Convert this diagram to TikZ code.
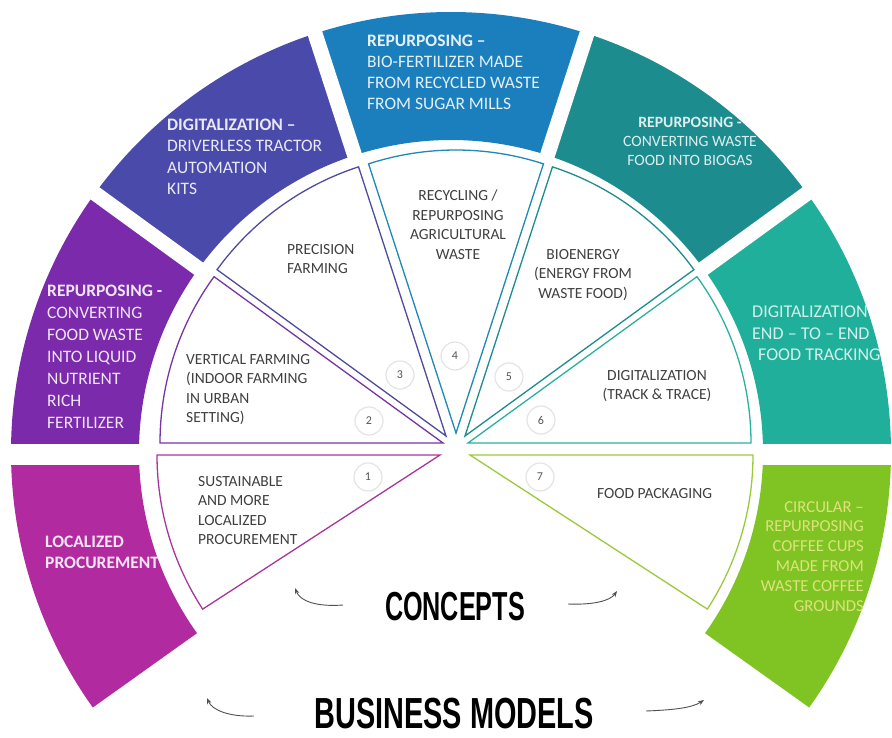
\documentclass[tikz,border=0pt]{standalone}
\usepackage{fontspec}
\setmainfont{Carlito}
\newfontfamily\conceptfont[FakeStretch=0.622]{Liberation Sans}
\newfontfamily\bmfont[FakeStretch=0.664]{Liberation Sans}
\usetikzlibrary{arrows.meta}
\definecolor{sA}{HTML}{B22AA0}
\definecolor{sB}{HTML}{7A2AAB}
\definecolor{sC}{HTML}{4A4AAA}
\definecolor{sD}{HTML}{1A7FBC}
\definecolor{sE}{HTML}{1C8C8E}
\definecolor{sF}{HTML}{20AF9A}
\definecolor{sG}{HTML}{80C424}
\definecolor{wA}{HTML}{A8359C}
\definecolor{wB}{HTML}{7535A5}
\definecolor{wC}{HTML}{4F4A9E}
\definecolor{wD}{HTML}{2088B5}
\definecolor{wE}{HTML}{1E8C8C}
\definecolor{wF}{HTML}{2BB0A0}
\definecolor{wG}{HTML}{9CC83C}
\definecolor{wtext}{HTML}{404040}
\definecolor{numring}{HTML}{E4E4E4}
\definecolor{numtext}{HTML}{555555}
\definecolor{arrowgray}{HTML}{505050}
\begin{document}
\begin{tikzpicture}[x=1pt,y=-1pt,
  ringtxt/.style={inner sep=0pt, anchor=north west, align=left},
  wtxt/.style={inner sep=0pt, text=wtext, font={\fontsize{15.5}{19.5}\selectfont}},
  numc/.style={circle, draw=numring, line width=1.2pt, fill=white, minimum size=28pt, inner sep=0pt, text=numtext, font={\fontsize{12}{14}\selectfont}},
  gapline/.style={white, line width=15pt},
  hgap/.style={white, line width=21pt},
  wedgeline/.style={line width=1.3pt, fill=white},
  curl/.style={-{Stealth[length=6pt,width=4.5pt]}, line width=0.9pt, draw=arrowgray},
]
\useasboundingbox (0,0) rectangle (892,737);
\coordinate (O) at (451,452);

% outer ring segments
\fill[sA, shift={(O)}] (144.5:440) arc[start angle=144.5, end angle=180, radius=440] -- (180:312) arc[start angle=180, end angle=144.5, radius=312] -- cycle;
\fill[sB, shift={(O)}] (180:440) arc[start angle=180, end angle=216, radius=440] -- (216:312) arc[start angle=216, end angle=180, radius=312] -- cycle;
\fill[sC, shift={(O)}] (216:440) arc[start angle=216, end angle=252, radius=440] -- (252:312) arc[start angle=252, end angle=216, radius=312] -- cycle;
\fill[sD, shift={(O)}] (252:440) arc[start angle=252, end angle=288, radius=440] -- (288:312) arc[start angle=288, end angle=252, radius=312] -- cycle;
\fill[sE, shift={(O)}] (288:440) arc[start angle=288, end angle=324, radius=440] -- (324:312) arc[start angle=324, end angle=288, radius=312] -- cycle;
\fill[sF, shift={(O)}] (324:440) arc[start angle=324, end angle=360, radius=440] -- (360:312) arc[start angle=360, end angle=324, radius=312] -- cycle;
\fill[sG, shift={(O)}] (0:440) arc[start angle=0, end angle=35.5, radius=440] -- (35.5:312) arc[start angle=35.5, end angle=0, radius=312] -- cycle;

% gaps between ring segments
\foreach \a in {216,252,288,324}
  \draw[gapline, shift={(O)}] (\a:300) -- (\a:460);
\draw[hgap] (0,454) -- (152,454);
\draw[hgap] (752,454) -- (892,454);

% inner wedges
\draw[wedgeline, draw=wA] (440,455) -- ++(147:283) arc[start angle=147, end angle=180, radius=283] -- cycle;
\draw[wedgeline, draw=wB] (443,443) -- ++(180:283) arc[start angle=180, end angle=216, radius=283] -- cycle;
\draw[wedgeline, draw=wC] (446,436) -- ++(216:283) arc[start angle=216, end angle=252, radius=283] -- cycle;
\draw[wedgeline, draw=wD] (456,433) -- ++(252:283) arc[start angle=252, end angle=288, radius=283] -- cycle;
\draw[wedgeline, draw=wE] (465,436) -- ++(288:283) arc[start angle=288, end angle=324, radius=283] -- cycle;
\draw[wedgeline, draw=wF] (468,443) -- ++(324:283) arc[start angle=324, end angle=360, radius=283] -- cycle;
\draw[wedgeline, draw=wG] (470,455) -- ++(0:283) arc[start angle=0, end angle=33, radius=283] -- cycle;

% number circles
\node[numc] (n1) at (368,477) {1};
\node[numc] (n2) at (369,421) {2};
\node[numc] (n3) at (400,375) {3};
\node[numc] (n4) at (455,356) {4};
\node[numc] (n5) at (509,377) {5};
\node[numc] (n6) at (541,420) {6};
\node[numc] (n7) at (540,477) {7};

% wedge texts
\node[wtxt, anchor=north west, align=left] (t1) at (198,476) {SUSTAINABLE\\AND MORE\\LOCALIZED\\PROCUREMENT};
\node[wtxt, anchor=north west, align=left] (t2) at (186,354) {VERTICAL FARMING\\(INDOOR FARMING\\IN URBAN\\SETTING)};
\node[wtxt, anchor=north west, align=left] (t3) at (287,244) {PRECISION\\FARMING};
\node[wtxt, anchor=north, align=center] (t4) at (458,190) {RECYCLING /\\REPURPOSING\\AGRICULTURAL\\WASTE};
\node[wtxt, anchor=north, align=center] (t5) at (583,249) {BIOENERGY\\(ENERGY FROM\\WASTE FOOD)};
\node[wtxt, anchor=north, align=center] (t6) at (657,370) {DIGITALIZATION\\(TRACK \& TRACE)};
\node[wtxt, anchor=north west, align=left] (t7) at (597,488) {FOOD PACKAGING};

% ring texts
\node[ringtxt, text=white!88!sA, font={\fontsize{17.5}{20.5}\selectfont\bfseries}] (r1) at (45,536) {LOCALIZED\\PROCUREMENT};
\node[ringtxt, text=white!88!sB, font={\fontsize{17.5}{22}\selectfont}] (r2) at (47,285) {\textbf{REPURPOSING -}\\CONVERTING\\FOOD WASTE\\INTO LIQUID\\NUTRIENT\\RICH\\FERTILIZER};
\node[ringtxt, text=white!88!sC, font={\fontsize{17.5}{21.3}\selectfont}] (r3) at (167,119) {\textbf{DIGITALIZATION –}\\DRIVERLESS TRACTOR\\AUTOMATION\\KITS};
\node[ringtxt, text=white!88!sD, font={\fontsize{17.5}{21}\selectfont}] (r4) at (367,35) {\textbf{REPURPOSING –}\\BIO-FERTILIZER MADE\\FROM RECYCLED WASTE\\FROM SUGAR MILLS};
\node[inner sep=0pt, anchor=north, align=center, text=white!85!sE, font={\fontsize{15.7}{19}\selectfont}] (r5) at (690,117) {\textbf{REPURPOSING -}\\CONVERTING WASTE\\FOOD INTO BIOGAS};
\node[ringtxt, text=white!80!sF, font={\fontsize{18}{21.5}\selectfont}] (r6) at (752,306) {DIGITALIZATION\\END – TO – END\\\hspace*{6pt}FOOD TRACKING};
\node[inner sep=0pt, anchor=north east, align=right, text=white!55!yellow!70!sG, font={\fontsize{16.7}{19.8}\selectfont}] (r7) at (864,501) {CIRCULAR –\\REPURPOSING\\COFFEE CUPS\\MADE FROM\\WASTE COFFEE\\GROUNDS};

% titles
\node[inner sep=0pt, font={\conceptfont\bfseries\fontsize{40.5}{40.5}\selectfont}] (concepts) at (455,607) {CONCEPTS};
\node[inner sep=0pt, font={\bmfont\bfseries\fontsize{43.5}{43.5}\selectfont}] (bm) at (454,714) {BUSINESS MODELS};

% curled arrows
\coordinate (a1s) at (343,605); \coordinate (a1e) at (295,588);
\coordinate (a2s) at (568,604); \coordinate (a2e) at (617,591);
\coordinate (a3s) at (254,716); \coordinate (a3e) at (207,698);
\coordinate (a4s) at (646,711); \coordinate (a4e) at (704,700);
\draw[curl] (a1s) .. controls (316,607) and (300,601) .. (a1e);
\draw[curl] (a2s) .. controls (593,605) and (610,601) .. (a2e);
\draw[curl] (a3s) .. controls (229,717) and (212,710) .. (a3e);
\draw[curl] (a4s) .. controls (672,710) and (692,708) .. (a4e);
\end{tikzpicture}
\end{document}
